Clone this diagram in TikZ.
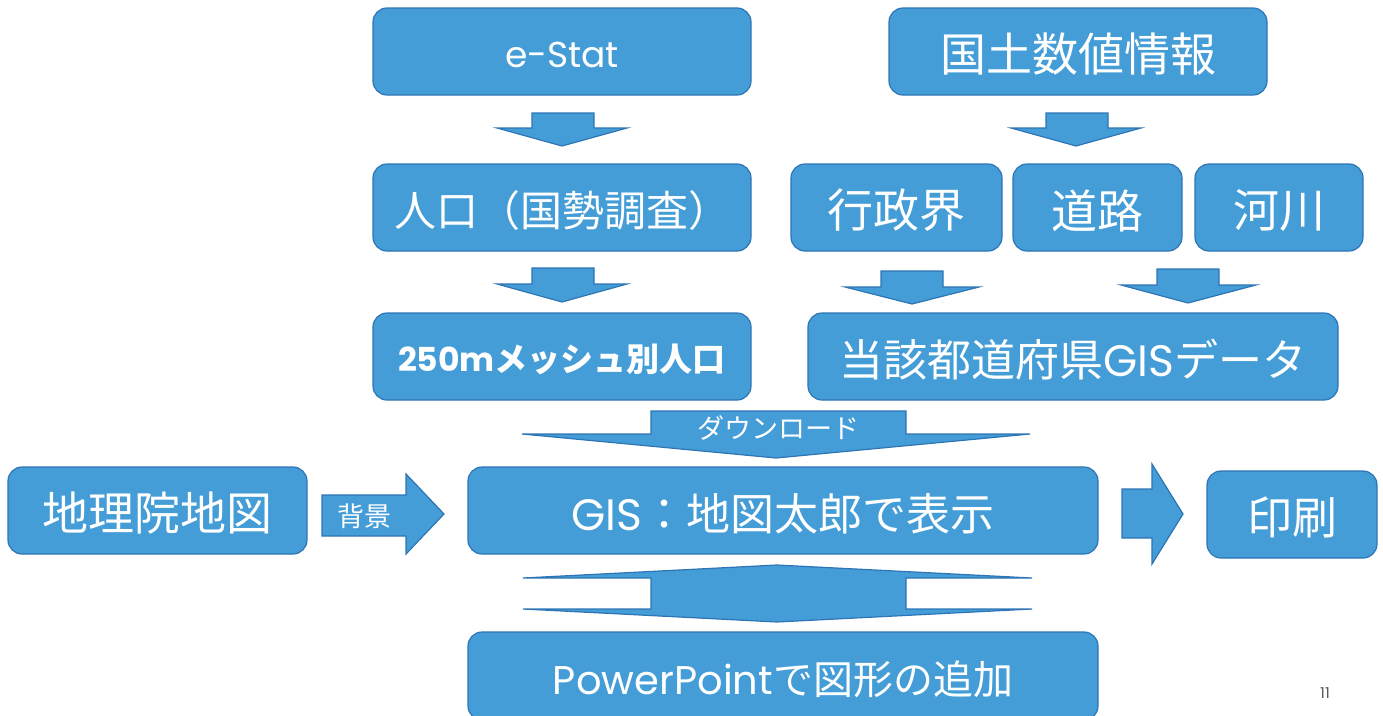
\documentclass[tikz,border=0pt]{standalone}
\usepackage{fontspec}
\setmainfont{Noto Sans CJK JP}
\newfontfamily\lat{Poppins}
\definecolor{boxfill}{RGB}{68,157,215}
\definecolor{boxline}{RGB}{46,117,182}
\definecolor{pagenum}{RGB}{89,89,89}
\newcommand{\fs}[1]{\fontsize{#1}{#1}\selectfont}
\newcommand{\dn}[1]{\raisebox{-3pt}[\height][\depth]{#1}}
\begin{document}
\begin{tikzpicture}[x=1pt,y=-1pt,
  box/.style={draw=boxline, line width=1.2pt, fill=boxfill, rounded corners=14pt,
    text=white, inner sep=0pt, minimum height=87pt},
  arr/.style={draw=boxline, line width=1.2pt, fill=boxfill, line join=miter},
  lbl/.style={text=white, inner sep=0pt}]
\useasboundingbox (0,0) rectangle (1383,715);

% boxes
\node[box, minimum width=378pt] (estat) at (562,51.5) {\dn{\fs{36}\lat e-Stat}};
\node[box, minimum width=378pt] (kokudo) at (1078,51.5) {\dn{\fs{46}国土数値情報}};
\node[box, minimum width=378pt] (jinko) at (562,207.5) {\dn{\fs{42}人口（国勢調査）}};
\node[box, minimum width=211pt] (gyosei) at (896.5,207.5) {\dn{\fs{46}行政界}};
\node[box, minimum width=169pt] (doro) at (1097.5,207.5) {\dn{\fs{46}道路}};
\node[box, minimum width=168pt] (kasen) at (1279,207.5) {\dn{\fs{46}河川}};
\node[box, minimum width=378pt] (mesh) at (562,356.5) {\dn{\fs{33}\bfseries{\lat 250m}メッシュ別人口}};
\node[box, minimum width=530pt] (todo) at (1073,356.5) {\dn{\fs{44}当該都道府県{\lat GIS}データ}};
\node[box, minimum width=299pt] (chiri) at (157.5,510.5) {\dn{\fs{46}地理院地図}};
\node[box, minimum width=630pt] (gis) at (783,510.5) {\dn{\fs{44}{\lat GIS}：地図太郎で表示}};
\node[box, minimum width=170pt] (insatsu) at (1292,514.5) {\dn{\fs{45}印刷}};
\node[box, minimum width=630pt, minimum height=88pt] (ppt) at (783,676) {\dn{\fs{40}{\lat PowerPoint}で図形の追加}};

% down arrows
\draw[arr] (532,113) -- (594,113) -- (594,128) -- (627,128) -- (562,146) -- (497,128) -- (532,128) -- cycle;
\draw[arr] (1046,113) -- (1108,113) -- (1108,128) -- (1141,128) -- (1076,146) -- (1011,128) -- (1046,128) -- cycle;
\draw[arr] (532,268) -- (594,268) -- (594,284) -- (627,284) -- (562,302) -- (497,284) -- (532,284) -- cycle;
\draw[arr] (881,271) -- (943,271) -- (943,287) -- (979,287) -- (912,304) -- (845,287) -- (881,287) -- cycle;
\draw[arr] (1157,269) -- (1219,269) -- (1219,285) -- (1256,285) -- (1188,303) -- (1121,285) -- (1157,285) -- cycle;

% download arrow
\draw[arr] (651,411) -- (906,411) -- (906,434) -- (1030,434) -- (776,458) -- (522,434) -- (651,434) -- cycle;
\node[lbl] (dl) at (778,428) {\fs{27}ダウンロード};

% up-down arrow
\draw[arr] (777,565) -- (1032,578) -- (906,578) -- (906,609) -- (1032,609) -- (777,622) -- (523,609) -- (651,609) -- (651,578) -- (523,578) -- cycle;

% right arrows
\draw[arr] (322,495) -- (406,495) -- (406,474) -- (444,514) -- (406,554) -- (406,536) -- (322,536) -- cycle;
\node[lbl] (haikei) at (364,516) {\fs{27}背景};
\draw[arr] (1122,489) -- (1152,489) -- (1152,464) -- (1183,514) -- (1152,564) -- (1152,538) -- (1122,538) -- cycle;

% page number
\node[text=pagenum, inner sep=0pt] (pn) at (1325,693) {\fs{15}\lat 11};
\end{tikzpicture}
\end{document}
